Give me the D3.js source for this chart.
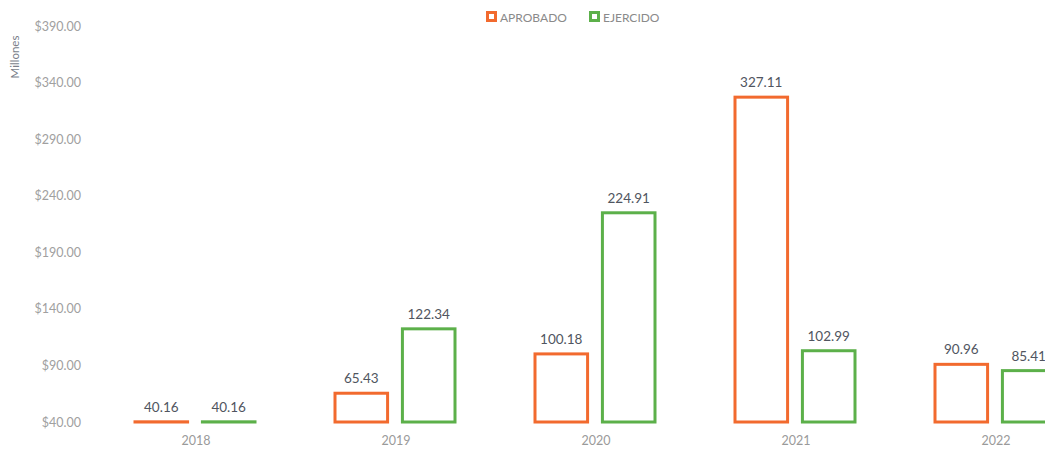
<!DOCTYPE html>
<html><head><meta charset="utf-8">
<script src="https://cdn.jsdelivr.net/npm/d3@7"></script>
<style>body{margin:0;background:#fff}svg{display:block}</style>
</head><body>
<svg id="c" width="1045" height="452"></svg>
<script>
const categories = ["2018","2019","2020","2021","2022"];
const aprobado = [40.16, 65.43, 100.18, 327.11, 90.96];
const ejercido = [40.16, 122.34, 224.91, 102.99, 85.41];
const seriesNames = ["APROBADO","EJERCIDO"];
const seriesColors = ["#F26A2E","#5CB04A"];
const yTicks = [40,90,140,190,240,290,340,390];

const svg = d3.select("#c");
const font = "Lato, 'Open Sans', sans-serif";

const x = d3.scaleBand().domain(categories).range([96,1096]).padding(0);
const inner = d3.scaleBand().domain(seriesNames).range([39,159]).paddingInner(0.22);
const y = d3.scaleLinear().domain([40,390]).range([422,26]);

// y axis
const yAxis = d3.axisLeft(y).tickValues(yTicks).tickFormat(d=>"$"+d3.format(".2f")(d)).tickSize(0).tickPadding(0);
const gy = svg.append("g").attr("transform","translate(81,0)").call(yAxis);
gy.select(".domain").remove();
gy.selectAll("text").attr("font-family",font).attr("font-size",12.5).attr("fill","#a0a0a0");

// x axis
const xAxis = d3.axisBottom(x).tickSize(0).tickPadding(0);
const gx = svg.append("g").attr("transform","translate(0,436)").call(xAxis);
gx.select(".domain").remove();
gx.selectAll("text").attr("font-family",font).attr("font-size",12.5).attr("fill","#9a9a9a");

// Millones label
svg.append("text").attr("transform","translate(19,57) rotate(-90)").attr("text-anchor","middle")
  .attr("font-family",font).attr("font-size",11.5).attr("fill","#7a7f8a").text("Millones");

const data = [aprobado, ejercido];
data.forEach((vals,si)=>{
  const g = svg.append("g");
  g.selectAll("rect").data(categories).join("rect")
    .attr("x",(c)=>x(c)+inner(seriesNames[si]))
    .attr("width",inner.bandwidth())
    .attr("y",(c,i)=>y(vals[i]))
    .attr("height",(c,i)=>Math.max(0,y(40)-y(vals[i])))
    .attr("fill","#fff").attr("stroke",seriesColors[si]).attr("stroke-width",3);
  g.selectAll("text").data(categories).join("text")
    .attr("x",(c)=>x(c)+inner(seriesNames[si])+inner.bandwidth()/2)
    .attr("y",(c,i)=>y(vals[i])-10)
    .attr("text-anchor","middle").attr("font-family",font).attr("font-size",13.5).attr("fill","#505560")
    .text((c,i)=>d3.format(".2f")(vals[i]));
});

// legend
const lg = svg.append("g").attr("transform","translate(486,11)");
const lx = [0,103];
seriesNames.forEach((n,i)=>{
  lg.append("rect").attr("x",lx[i]+1.5).attr("y",1.5).attr("width",8).attr("height",8)
    .attr("fill","#fff").attr("stroke",seriesColors[i]).attr("stroke-width",3);
  lg.append("text").attr("x",lx[i]+14).attr("y",10.5).attr("font-family",font).attr("font-size",12)
    .attr("fill","#8a8a8a").text(n);
});
</script>
</body></html>
